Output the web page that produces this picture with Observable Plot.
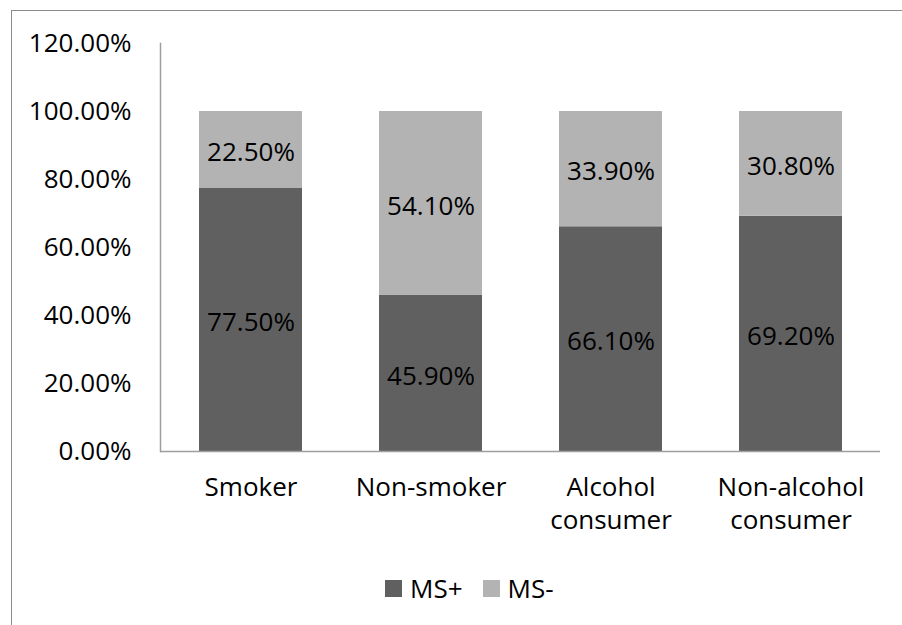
<!DOCTYPE html>
<html>
<head>
<meta charset="utf-8">
<script src="https://cdn.jsdelivr.net/npm/d3@7"></script>
<script src="https://cdn.jsdelivr.net/npm/@observablehq/plot@0.6"></script>
<style>
  html, body { margin: 0; padding: 0; background: #fff; }
  #wrap { position: relative; width: 902px; height: 625px; overflow: hidden; font-family: "Open Sans", sans-serif; }
  #frame { position: absolute; left: 11px; top: 10px; width: 1000px; height: 1000px; border: 1.5px solid #8c8c8c; box-sizing: border-box; }
  #chart { position: absolute; left: 0; top: 0; }
  #legend { position: absolute; top: 570px; left: 385px; display: flex; font-size: 26px; color: #000; }
  .item { display: flex; align-items: center; margin-right: 20px; }
  .sw { width: 17px; height: 17px; margin-right: 8px; }
</style>
</head>
<body>
<div id="wrap">
  <div id="frame"></div>
  <div id="chart"></div>
  <div id="legend"></div>
</div>
<script>
const categories = ["Smoker", "Non-smoker", "Alcohol\nconsumer", "Non-alcohol\nconsumer"];
const msPlus = [0.775, 0.459, 0.661, 0.692];
const msMinus = [0.225, 0.541, 0.339, 0.308];
const seriesNames = ["MS+", "MS-"];
const seriesColors = ["#606060", "#b3b3b3"];
const yTicks = [0, 0.2, 0.4, 0.6, 0.8, 1.0, 1.2];

const data = [];
categories.forEach((c, i) => {
  data.push({cat: c, series: "MS+", value: msPlus[i]});
  data.push({cat: c, series: "MS-", value: msMinus[i]});
});

const fmt = d3.format(".2%");

const chart = Plot.plot({
  width: 902,
  height: 560,
  marginLeft: 160,
  marginRight: 22,
  marginTop: 43,
  marginBottom: 109,
  style: {fontFamily: "Open Sans, sans-serif", fontSize: "26px", color: "#000", background: "transparent"},
  x: {domain: categories, paddingInner: 0.43, paddingOuter: 0.215, label: null},
  y: {domain: [0, 1.2], label: null},
  color: {domain: seriesNames, range: seriesColors},
  marks: [
    Plot.barY(data, Plot.stackY({x: "cat", y: "value", fill: "series", order: seriesNames})),
    Plot.text(data, Plot.stackY({x: "cat", y: "value", z: "series", order: seriesNames, text: d => fmt(d.value), fill: "#000", fontSize: 26, dy: 3})),
    Plot.axisY({ticks: yTicks, tickFormat: fmt, tickSize: 0, tickPadding: 29, fontSize: 26, fill: "#000"}),
    Plot.frame({anchor: "left", stroke: "#9e9e9e", strokeWidth: 1.5}),
    Plot.axisX({tickSize: 0, tickPadding: 21, lineHeight: 1.28, fontSize: 26, fill: "#000"}),
    Plot.ruleY([0], {stroke: "#9e9e9e", strokeWidth: 1.5})
  ]
});
document.getElementById("chart").appendChild(chart);

const legend = document.getElementById("legend");
seriesNames.forEach((s, i) => {
  const item = document.createElement("div");
  item.className = "item";
  const sw = document.createElement("div");
  sw.className = "sw";
  sw.style.background = seriesColors[i];
  const t = document.createElement("span");
  t.textContent = s;
  item.appendChild(sw);
  item.appendChild(t);
  legend.appendChild(item);
});
</script>
</body>
</html>
